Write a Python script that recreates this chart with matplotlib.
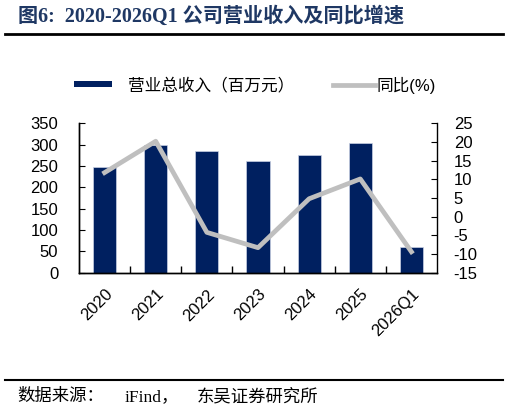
import matplotlib.pyplot as plt
from matplotlib.lines import Line2D
from matplotlib.patches import Patch

years = ["2020", "2021", "2022", "2023", "2024", "2025", "2026Q1"]
revenue = [248, 298, 286, 262, 276, 303, 60]
yoy = [11.8, 20.2, -4.2, -8.3, 4.8, 10.1, -9.4]

bar_color = "#002060"
line_color = "#BFBFBF"
latin_cjk = ["Liberation Sans", "Noto Sans CJK SC"]
serif_cjk = ["Liberation Serif", "Noto Sans CJK SC"]
plt.rcParams["axes.unicode_minus"] = False

fig = plt.figure(figsize=(5.09, 4.13), dpi=100)
ax = fig.add_axes([79 / 509, 1 - 272.7 / 413, 358 / 509, 149.4 / 413])

x = range(len(years))
ax.bar(x, revenue, width=0.45, color=bar_color, edgecolor="#C9D1E3",
       linewidth=0.5, zorder=2)
ax.set_xlim(-0.5, len(years) - 0.5)
ax.set_ylim(0, 350)
ax.set_yticks(range(0, 351, 50))
# ticks sit between categories, labels under the bars
ax.set_xticks([i + 0.5 for i in range(len(years) - 1)])
ax.set_xticklabels([])
ax.set_xticks(list(x), minor=True)
ax.set_xticklabels(years, minor=True, rotation=45, ha="right", va="top",
                   rotation_mode="anchor", fontsize=12, family=latin_cjk)
ax.tick_params(axis="x", which="major", direction="in", length=5, width=1)
ax.tick_params(axis="x", which="minor", length=0, pad=10)
ax.tick_params(axis="y", direction="in", length=4.5, labelsize=12, pad=15)
for lab in ax.get_yticklabels():
    lab.set_family(latin_cjk)

ax2 = ax.twinx()
ax2.plot(x, yoy, color=line_color, linewidth=3.4, zorder=3)
ax2.set_ylim(-15, 25)
ax2.set_yticks(range(-15, 26, 5))
ax2.tick_params(axis="y", direction="in", length=4.5, labelsize=12, pad=12)
for lab in ax2.get_yticklabels():
    lab.set_family(latin_cjk)

for a in (ax, ax2):
    a.spines["top"].set_visible(False)
    for s in ("left", "right", "bottom"):
        a.spines[s].set_linewidth(1)
ax.spines["right"].set_visible(False)

# two legend entries placed separately to match spacing
leg_kw = dict(loc="center left", frameon=False, prop={"family": latin_cjk, "size": 12},
              borderpad=0, borderaxespad=0)
fig.legend([Patch(facecolor=bar_color, edgecolor="none")], ["营业总收入（百万元）"],
           bbox_to_anchor=(74 / 509, 1 - 85 / 413), handlelength=2.3,
           handleheight=0.2, handletextpad=0.95, **leg_kw)
fig.legend([Line2D([], [], color=line_color, linewidth=3.4)], ["同比(%)"],
           bbox_to_anchor=(333 / 509, 1 - 85 / 413), handlelength=2.5,
           handletextpad=0.1, **leg_kw)

fig.text(18 / 509, 1 - 17 / 413, "图6:  2020-2026Q1 公司营业收入及同比增速",
         fontsize=14.5, fontweight="bold", color="#1F3864", va="center",
         family=serif_cjk)
fig.add_artist(Line2D([5 / 509, 503 / 509], [1 - 34 / 413] * 2, color="black", linewidth=2))
fig.add_artist(Line2D([5 / 509, 503 / 509], [1 - 380 / 413] * 2, color="black", linewidth=1.5))
for xpos, txt in [(17, "数据来源："), (125, "iFind，"), (197, "东吴证券研究所")]:
    fig.text(xpos / 509, 1 - 397 / 413, txt, fontsize=12.5, va="center", family=serif_cjk)

fig.savefig("out.png", dpi=100)
